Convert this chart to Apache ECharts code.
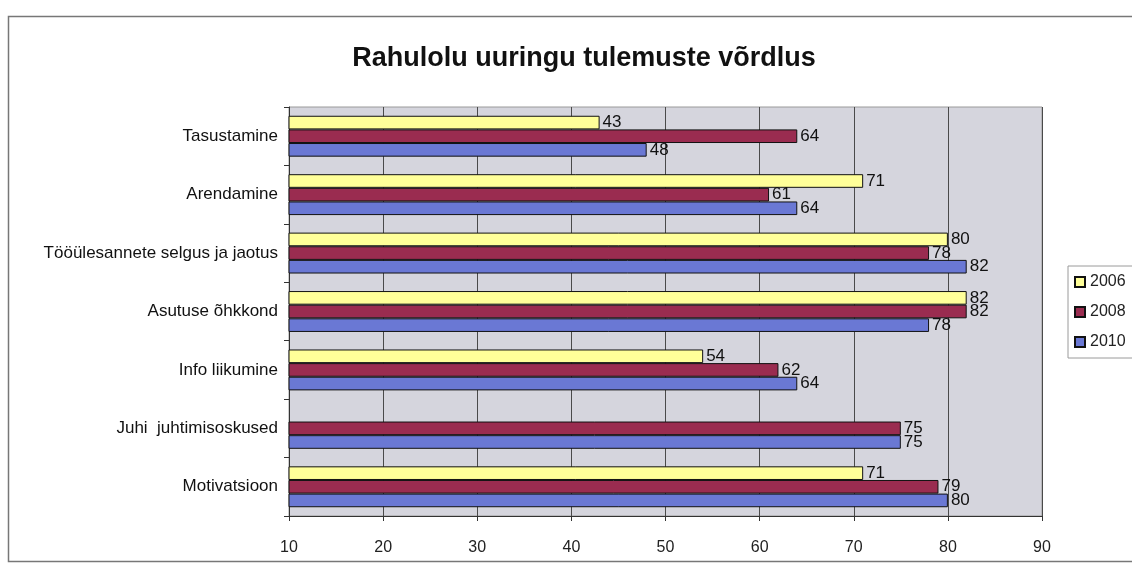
<!DOCTYPE html>
<html>
<head>
<meta charset="utf-8">
<script src="https://cdn.jsdelivr.net/npm/echarts@6/dist/echarts.min.js"></script>
<style>
  html, body { margin: 0; padding: 0; background: #fff; }
  #chart { width: 1132px; height: 573px; }
</style>
</head>
<body>
<div id="chart"></div>
<script>
// Survey topics (top to bottom) and yearly satisfaction scores
const categories = [
  'Tasustamine',
  'Arendamine',
  'Tööülesannete selgus ja jaotus',
  'Asutuse õhkkond',
  'Info liikumine',
  'Juhi  juhtimisoskused',
  'Motivatsioon'
];
const years = ['2006', '2008', '2010'];
const values2006 = [43, 71, 80, 82, 54, null, 71];
const values2008 = [64, 61, 78, 82, 62, 75, 79];
const values2010 = [48, 64, 82, 78, 64, 75, 80];
const xTicks = { min: 10, max: 90, interval: 10 };

const FONT = '"Liberation Sans", Arial, sans-serif';
const colors = ['#FFFF99', '#9A2C50', '#6A78D4'];
const seriesValues = [values2006, values2008, values2010];

const chart = echarts.init(document.getElementById('chart'));

chart.setOption({
  animation: false,
  backgroundColor: '#ffffff',
  title: {
    text: 'Rahulolu uuringu tulemuste võrdlus',
    left: 579,
    textAlign: 'center',
    top: 40,
    textStyle: { fontFamily: FONT, fontSize: 27, fontWeight: 'bold', color: '#111' }
  },
  legend: {
    orient: 'vertical',
    left: 1068,
    top: 266,
    itemWidth: 10,
    itemHeight: 10,
    itemGap: 14,
    padding: [8, 10, 8, 6],
    borderColor: '#9a9a9a',
    borderWidth: 1,
    icon: 'rect',
    data: years,
    textStyle: { fontFamily: FONT, fontSize: 16, color: '#222' }
  },
  grid: {
    left: 289,
    right: 90,
    top: 107,
    bottom: 57,
    show: true,
    backgroundColor: '#D5D5DD',
    borderColor: '#9a9a9a',
    borderWidth: 1
  },
  xAxis: {
    type: 'value',
    min: xTicks.min,
    max: xTicks.max,
    interval: xTicks.interval,
    axisLine: { show: true, lineStyle: { color: '#333', width: 1 } },
    axisTick: { show: true, length: 5, lineStyle: { color: '#333' } },
    axisLabel: { fontFamily: FONT, fontSize: 16, color: '#222', margin: 24 },
    splitLine: { show: true, lineStyle: { color: '#4a4a4a', width: 1 } }
  },
  yAxis: {
    type: 'category',
    inverse: true,
    data: categories,
    axisLine: { show: true, lineStyle: { color: '#333', width: 1 } },
    axisTick: { show: true, length: 5, lineStyle: { color: '#333' } },
    axisLabel: { fontFamily: FONT, fontSize: 17, color: '#111', margin: 11 }
  },
  series: years.map((y, i) => ({
    name: y,
    type: 'bar',
    data: seriesValues[i],
    barGap: '0%',
    barCategoryGap: '30%',
    itemStyle: { color: colors[i], borderColor: '#111', borderWidth: 1 },
    label: {
      show: true,
      position: 'right',
      distance: 3,
      fontFamily: FONT,
      fontSize: 17,
      color: '#111'
    }
  })),
  graphic: [{
    type: 'rect',
    shape: { x: 8.5, y: 16.5, width: 1140, height: 545 },
    style: { fill: null, stroke: '#777', lineWidth: 1.5 },
    silent: true
  }]
});
</script>
</body>
</html>
